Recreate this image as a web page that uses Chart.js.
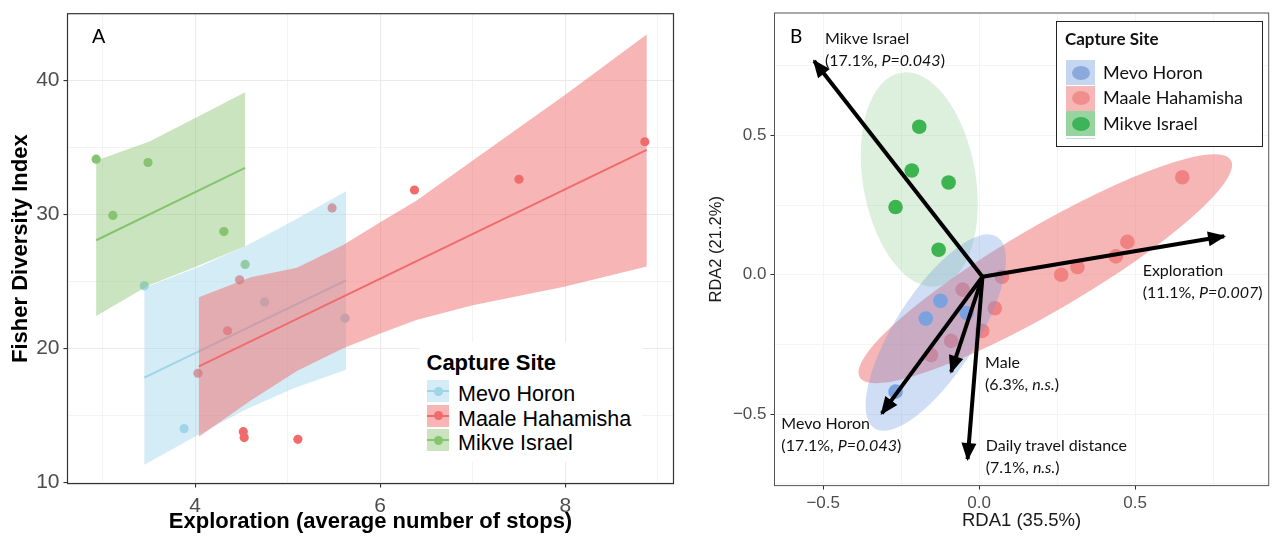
<!DOCTYPE html>
<html>
<head>
<meta charset="utf-8">
<script src="https://cdn.jsdelivr.net/npm/chart.js@4.4.1/dist/chart.umd.min.js"></script>
<style>
  body { margin: 0; background: #fff; }
  #page { position: relative; width: 1276px; height: 537px; overflow: hidden; font-family: "Liberation Sans", Arial, sans-serif; }
  .abs { position: absolute; white-space: nowrap; }
  .lab { font-family: Lato, "Noto Sans", sans-serif; font-size: 16px; line-height: 22px; color: #111; }
  .legA { font-size: 21.5px; line-height: 21.5px; color: #000; }
  .legB { font-family: Lato, "Noto Sans", sans-serif; font-size: 18px; line-height: 18px; color: #111; }
</style>
</head>
<body>
<div id="page">
  <div class="abs" style="left:0;top:0;"><canvas id="chartA" width="690" height="537"></canvas></div>
  <div class="abs" style="left:700px;top:0;"><canvas id="chartB" width="576" height="537"></canvas></div>
  <div class="abs" style="left:92px;top:26px;font-size:20px;line-height:20px;">A</div>
  <div class="abs" style="left:790px;top:26px;font-family:Lato,sans-serif;font-size:19px;line-height:19px;">B</div>
  <div class="abs" style="left:420px;top:342px;width:222px;height:120px;background:#fff;"></div>
  <div class="abs" style="left:426.5px;top:352px;font-size:22px;line-height:22px;font-weight:bold;">Capture Site</div>
  <div class="abs" style="left:1056px;top:21px;width:205px;height:124px;border:1.6px solid #222;background:#fff;"></div>
  <div class="abs" style="left:1065px;top:30px;font-family:Lato,sans-serif;font-size:17px;line-height:17px;font-weight:bold;color:#111;">Capture Site</div>
</div>
<script>
const siteNames = ["Mevo Horon", "Maale Hahamisha", "Mikve Israel"];

// Panel A: exploration vs Fisher diversity, per capture site
const mevoExpl = [3.45, 3.88, 4.75, 5.62];
const mevoFisher = [24.65, 14.0, 23.45, 22.24];
const maaleExpl = [4.03, 4.35, 4.48, 4.52, 4.53, 5.11, 5.48, 6.37, 7.50, 8.86];
const maaleFisher = [18.13, 21.3, 25.1, 13.77, 13.33, 13.2, 30.46, 31.8, 32.6, 35.4];
const mikveExpl = [2.93, 3.11, 3.49, 4.31, 4.54];
const mikveFisher = [34.1, 29.9, 33.85, 28.7, 26.25];

// fitted lines, read at both ends
const mevoFitX = [3.45, 5.63];
const mevoFitY = [17.8, 25.06];
const maaleFitX = [4.04, 8.88];
const maaleFitY = [18.64, 34.8];
const mikveFitX = [2.93, 4.54];
const mikveFitY = [28.05, 33.45];

// confidence bands: x, upper, lower
const mevoBandX = [3.45, 4.05, 4.54, 5.06, 5.63];
const mevoBandHi = [24.5, 26.1, 27.6, 29.5, 31.7];
const mevoBandLo = [11.3, 13.6, 15.4, 17.0, 18.4];
const maaleBandX = [4.04, 4.6, 5.1, 5.6, 6.0, 6.39, 7.0, 8.0, 8.88];
const maaleBandHi = [23.8, 25.3, 26.0, 27.7, 29.4, 31.0, 34.0, 38.9, 43.4];
const maaleBandLo = [13.4, 16.1, 18.3, 20.0, 21.1, 22.1, 23.2, 24.6, 26.1];
const mikveBandX = [2.93, 3.5, 3.98, 4.54];
const mikveBandHi = [34.0, 35.4, 37.1, 39.1];
const mikveBandLo = [22.4, 24.7, 26.0, 27.6];

const xTicksA = [4, 6, 8];
const yTicksA = [10, 20, 30, 40];

// Panel B: RDA site scores
const mevoRDA1 = [-0.124, -0.171, -0.040, -0.268];
const mevoRDA2 = [-0.093, -0.157, -0.137, -0.419];
const maaleRDA1 = [0.651, 0.475, 0.438, 0.315, 0.263, 0.073, 0.050, 0.010, -0.053, -0.090, -0.154];
const maaleRDA2 = [0.350, 0.118, 0.066, 0.028, 0.000, -0.007, -0.120, -0.201, -0.053, -0.237, -0.288];
const mikveRDA1 = [-0.192, -0.216, -0.098, -0.268, -0.130];
const mikveRDA2 = [0.531, 0.374, 0.331, 0.243, 0.090];

// ellipses: centre, two half-axes (RDA units)
const mevoEllipse = { c: [-0.139, -0.207], u: [0.197, 0.343], v: [0.109, -0.080] };
const maaleEllipse = { c: [0.212, 0.022], u: [0.595, 0.389], v: [0.067, -0.131] };
const mikveEllipse = { c: [-0.192, 0.342], u: [-0.059, 0.383], v: [0.178, 0.035] };

// biplot arrows
const arrowOrigin = [0.0105, -0.007];
const arrowNames = ["Mikve Israel", "Exploration", "Male", "Mevo Horon", "Daily travel distance"];
const arrowShare = ["17.1%", "11.1%", "6.3%", "17.1%", "7.1%"];
const arrowTest = ["P=0.043", "P=0.007", "n.s.", "P=0.043", "n.s."];
const arrowRDA1 = [-0.529, 0.785, -0.090, -0.312, -0.037];
const arrowRDA2 = [0.767, 0.138, -0.348, -0.497, -0.661];
const labelRDA1 = [-0.494, 0.524, 0.019, -0.634, 0.021];
const labelRDA2 = [0.858, 0.027, -0.302, -0.523, -0.600];

const ticksB = [-0.5, 0, 0.5];

Chart.defaults.font.family = "'Liberation Sans', Arial, sans-serif";

const pts = (xs, ys) => xs.map((x, i) => ({ x, y: ys[i] }));
const band = (xs, hi, lo) => pts(xs, hi).concat(pts(xs, lo).reverse());
const fmtB = v => v.toFixed(1).replace("-", "\u2212");

const colA = ["rgb(160,212,232)", "rgb(240,108,108)", "rgb(135,196,112)"];
const bandColA = ["rgba(160,212,232,0.45)", "rgba(240,108,108,0.5)", "rgba(135,196,112,0.45)"];

const panelBorder = (colour, width) => ({
  id: "panelBorder",
  afterDraw(chart) {
    const { ctx, chartArea: a } = chart;
    ctx.save();
    ctx.strokeStyle = colour;
    ctx.lineWidth = width;
    ctx.strokeRect(a.left, a.top, a.right - a.left, a.bottom - a.top);
    ctx.restore();
  }
});

const pointSet = (data, c, order) => ({
  type: "scatter", data, backgroundColor: c, borderColor: "rgba(0,0,0,0)", borderWidth: 0,
  pointRadius: 4.6, order
});
const bandSet = (data, c, order) => ({
  type: "line", data, backgroundColor: c, borderColor: "rgba(0,0,0,0)", borderWidth: 0,
  pointRadius: 0, fill: "shape", tension: 0, order
});
const lineSet = (data, c, order) => ({
  type: "line", data, borderColor: c, borderWidth: 2, pointRadius: 0, fill: false, order
});

const chartA = new Chart(document.getElementById("chartA"), {
  type: "scatter",
  data: {
    datasets: [
      pointSet(pts(mevoExpl, mevoFisher), colA[0], 8),
      pointSet(pts(maaleExpl, maaleFisher), colA[1], 8),
      pointSet(pts(mikveExpl, mikveFisher), colA[2], 8),
      bandSet(band(mevoBandX, mevoBandHi, mevoBandLo), bandColA[0], 6),
      lineSet(pts(mevoFitX, mevoFitY), colA[0], 5),
      bandSet(band(maaleBandX, maaleBandHi, maaleBandLo), bandColA[1], 4),
      lineSet(pts(maaleFitX, maaleFitY), colA[1], 3),
      bandSet(band(mikveBandX, mikveBandHi, mikveBandLo), bandColA[2], 2),
      lineSet(pts(mikveFitX, mikveFitY), colA[2], 1)
    ]
  },
  options: {
    responsive: false, animation: false, events: [],
    layout: { padding: { left: 0, top: 13.7, right: 16.5, bottom: 0 } },
    plugins: { legend: { display: false }, tooltip: { enabled: false } },
    scales: {
      x: {
        type: "linear", min: 2.62, max: 9.17,
        ticks: {
          stepSize: 1, includeBounds: false, autoSkip: false, maxRotation: 0, padding: 6,
          color: "#4d4d4d", font: { size: 21 },
          callback: v => xTicksA.includes(v) ? String(v) : ""
        },
        grid: {
          color: "#ebebeb", tickLength: 4, tickWidth: 1.1,
          lineWidth: c => xTicksA.includes(c.tick && c.tick.value) ? 1.1 : 0.6,
          tickColor: c => xTicksA.includes(c.tick && c.tick.value) ? "#333" : "rgba(0,0,0,0)"
        },
        border: { display: false },
        title: {
          display: true, text: "Exploration (average number of stops)", color: "#000",
          font: { size: 22, weight: "bold", lineHeight: 1 }, padding: { top: 0, bottom: 4 }
        },
        afterFit: s => { s.height = 53.4; s.paddingLeft = 0; s.paddingRight = 0; }
      },
      y: {
        type: "linear", min: 9.9, max: 44.95,
        ticks: {
          stepSize: 5, includeBounds: false, autoSkip: false, padding: 4,
          color: "#4d4d4d", font: { size: 21 },
          callback: v => yTicksA.includes(v) ? String(v) : ""
        },
        grid: {
          color: "#ebebeb", tickLength: 4, tickWidth: 1.1,
          lineWidth: c => yTicksA.includes(c.tick && c.tick.value) ? 1.1 : 0.6,
          tickColor: c => yTicksA.includes(c.tick && c.tick.value) ? "#333" : "rgba(0,0,0,0)"
        },
        border: { display: false },
        title: {
          display: true, text: "Fisher Diversity Index", color: "#000",
          font: { size: 22, weight: "bold", lineHeight: 1 }, padding: { top: 9.7, bottom: 0 }
        },
        afterFit: s => { s.width = 67.5; s.paddingTop = 0; s.paddingBottom = 0; }
      }
    }
  },
  plugins: [panelBorder("#333", 1.2)]
});

// Panel B
const colB = ["rgb(122,162,222)", "rgb(242,150,150)", "rgb(40,175,67)"];
const ellipseFill = ["rgba(110,155,225,0.33)", "rgba(240,110,110,0.5)", "rgba(120,195,120,0.25)"];
const ellipses = [
  { e: mikveEllipse, fill: ellipseFill[2] },
  { e: maaleEllipse, fill: ellipseFill[1] },
  { e: mevoEllipse, fill: ellipseFill[0] }
];

const ellipsePlugin = {
  id: "siteEllipses",
  afterDatasetDraw(chart, args) {
    if (args.index !== 0) return; // after red/green points, before blue points and arrows
    const { ctx, chartArea: a, scales: { x, y } } = chart;
    ctx.save();
    ctx.beginPath();
    ctx.rect(a.left, a.top, a.right - a.left, a.bottom - a.top);
    ctx.clip();
    ellipses.forEach(({ e, fill }) => {
      const cx = x.getPixelForValue(e.c[0]), cy = y.getPixelForValue(e.c[1]);
      const ux = x.getPixelForValue(e.c[0] + e.u[0]) - cx, uy = y.getPixelForValue(e.c[1] + e.u[1]) - cy;
      const vx = x.getPixelForValue(e.c[0] + e.v[0]) - cx, vy = y.getPixelForValue(e.c[1] + e.v[1]) - cy;
      ctx.save();
      ctx.transform(ux, uy, vx, vy, cx, cy);
      ctx.beginPath();
      ctx.arc(0, 0, 1, 0, Math.PI * 2);
      ctx.restore();
      ctx.fillStyle = fill;
      ctx.fill();
    });
    ctx.restore();
  }
};

const arrowHeads = {
  id: "arrowHeads",
  afterDatasetsDraw(chart) {
    const { ctx, scales: { x, y } } = chart;
    const ox = x.getPixelForValue(arrowOrigin[0]), oy = y.getPixelForValue(arrowOrigin[1]);
    ctx.save();
    ctx.fillStyle = "#000";
    arrowRDA1.forEach((ax, i) => {
      const tx = x.getPixelForValue(ax), ty = y.getPixelForValue(arrowRDA2[i]);
      const ang = Math.atan2(ty - oy, tx - ox);
      const len = 16, half = 7.5;
      const bx = tx - len * Math.cos(ang), by = ty - len * Math.sin(ang);
      ctx.beginPath();
      ctx.moveTo(tx + 2 * Math.cos(ang), ty + 2 * Math.sin(ang));
      ctx.lineTo(bx + half * Math.sin(ang), by - half * Math.cos(ang));
      ctx.lineTo(bx - half * Math.sin(ang), by + half * Math.cos(ang));
      ctx.closePath();
      ctx.fill();
    });
    ctx.restore();
  }
};

const isMajorB = v => ticksB.some(t => Math.abs(t - v) < 1e-9);

const chartB = new Chart(document.getElementById("chartB"), {
  type: "scatter",
  data: {
    datasets: [
      { data: pts(maaleRDA1, maaleRDA2), backgroundColor: colB[1], borderColor: "rgba(0,0,0,0)", borderWidth: 0, pointRadius: 7.3, order: 2 },
      { data: pts(mevoRDA1, mevoRDA2), backgroundColor: colB[0], borderColor: "rgba(0,0,0,0)", borderWidth: 0, pointRadius: 7.3, order: 1 },
      { data: pts(mikveRDA1, mikveRDA2), backgroundColor: colB[2], borderColor: "rgba(0,0,0,0)", borderWidth: 0, pointRadius: 7.3, order: 2 }
    ].concat(arrowRDA1.map((ax, i) => ({
      type: "line",
      data: [{ x: arrowOrigin[0], y: arrowOrigin[1] }, { x: ax, y: arrowRDA2[i] }],
      borderColor: "#000", borderWidth: 4, pointRadius: 0, fill: false, order: 0
    })))
  },
  options: {
    responsive: false, animation: false, events: [],
    layout: { padding: { left: 0, top: 13, right: 2, bottom: 0 } },
    plugins: { legend: { display: false }, tooltip: { enabled: false } },
    scales: {
      x: {
        type: "linear", min: -0.656, max: 0.928,
        ticks: {
          stepSize: 0.25, includeBounds: false, autoSkip: false, maxRotation: 0, padding: 4,
          color: "#4d4d4d", font: { size: 17 },
          callback: v => isMajorB(v) ? fmtB(v) : ""
        },
        grid: {
          color: "#f4f4f4", lineWidth: 1, tickLength: 4, tickWidth: 1,
          tickColor: c => isMajorB(c.tick ? c.tick.value : 9) ? "#333" : "rgba(0,0,0,0)"
        },
        border: { display: false },
        title: {
          display: true, text: "RDA1 (35.5%)", color: "#1a1a1a",
          font: { size: 18.5, lineHeight: 1 }, padding: { top: 0, bottom: 7.25 }
        },
        afterFit: s => { s.height = 51.4; s.paddingLeft = 0; s.paddingRight = 0; }
      },
      y: {
        type: "linear", min: -0.756, max: 0.939,
        ticks: {
          stepSize: 0.25, includeBounds: false, autoSkip: false, padding: 4,
          color: "#4d4d4d", font: { size: 17 },
          callback: v => isMajorB(v) ? fmtB(v) : ""
        },
        grid: {
          color: "#f4f4f4", lineWidth: 1, tickLength: 4, tickWidth: 1,
          tickColor: c => isMajorB(c.tick ? c.tick.value : 9) ? "#333" : "rgba(0,0,0,0)"
        },
        border: { display: false },
        title: {
          display: true, text: "RDA2 (21.2%)", color: "#1a1a1a",
          font: { size: 16.5, lineHeight: 1 }, padding: { top: 8.45, bottom: 0 }
        },
        afterFit: s => { s.width = 74.5; s.paddingTop = 0; s.paddingBottom = 0; }
      }
    }
  },
  plugins: [ellipsePlugin, arrowHeads, panelBorder("#555", 1)]
});

const page = document.getElementById("page");

// arrow labels anchored on panel B's scales
arrowNames.forEach((name, i) => {
  const d = document.createElement("div");
  d.className = "abs lab";
  d.innerHTML = name + "<br>(" + arrowShare[i] + ", <i>" + arrowTest[i] + "</i>)";
  d.style.left = (700 + chartB.scales.x.getPixelForValue(labelRDA1[i])) + "px";
  d.style.top = (chartB.scales.y.getPixelForValue(labelRDA2[i]) - 8.5) + "px";
  page.appendChild(d);
});

// legend A
const legATops = [380, 404.5, 429];
siteNames.forEach((name, i) => {
  const key = document.createElement("div");
  key.className = "abs";
  key.style.cssText = "left:427px;top:" + legATops[i] + "px;width:22px;height:22px;background:" + bandColA[i] + ";";
  key.innerHTML =
    '<div style="position:absolute;left:0;top:10px;width:22px;height:2px;background:' + colA[i] + ';"></div>' +
    '<div style="position:absolute;left:6.5px;top:6.5px;width:9px;height:9px;border-radius:50%;background:' + colA[i] + ';"></div>';
  page.appendChild(key);
  const t = document.createElement("div");
  t.className = "abs legA";
  t.style.left = "458px";
  t.style.top = (legATops[i] + 14.5 - 10.5) + "px";
  t.textContent = name;
  page.appendChild(t);
});

// legend B
const legBKey = ["#c5d7f0", "#f7b7b7", "#98d4a0"];
const legBDot = ["#8ba9dd", "#f08e8e", "#3cb45a"];
const legBTops = [60, 85.5, 111];
siteNames.forEach((name, i) => {
  const key = document.createElement("div");
  key.className = "abs";
  key.style.cssText = "left:1066px;top:" + legBTops[i] + "px;width:29px;height:25px;background:" + legBKey[i] + ";";
  key.innerHTML = '<div style="position:absolute;left:5.5px;top:5.5px;width:18px;height:14px;border-radius:50%;background:' + legBDot[i] + ';"></div>';
  page.appendChild(key);
  const t = document.createElement("div");
  t.className = "abs legB";
  t.style.left = "1103px";
  t.style.top = (legBTops[i] + 12 - 9.5) + "px";
  t.textContent = name;
  page.appendChild(t);
});
const stub = document.createElement("div");
stub.className = "abs";
stub.style.cssText = "left:1066px;top:137.5px;width:29px;height:1.5px;background:#c5d7f0;";
page.appendChild(stub);
</script>
</body>
</html>
